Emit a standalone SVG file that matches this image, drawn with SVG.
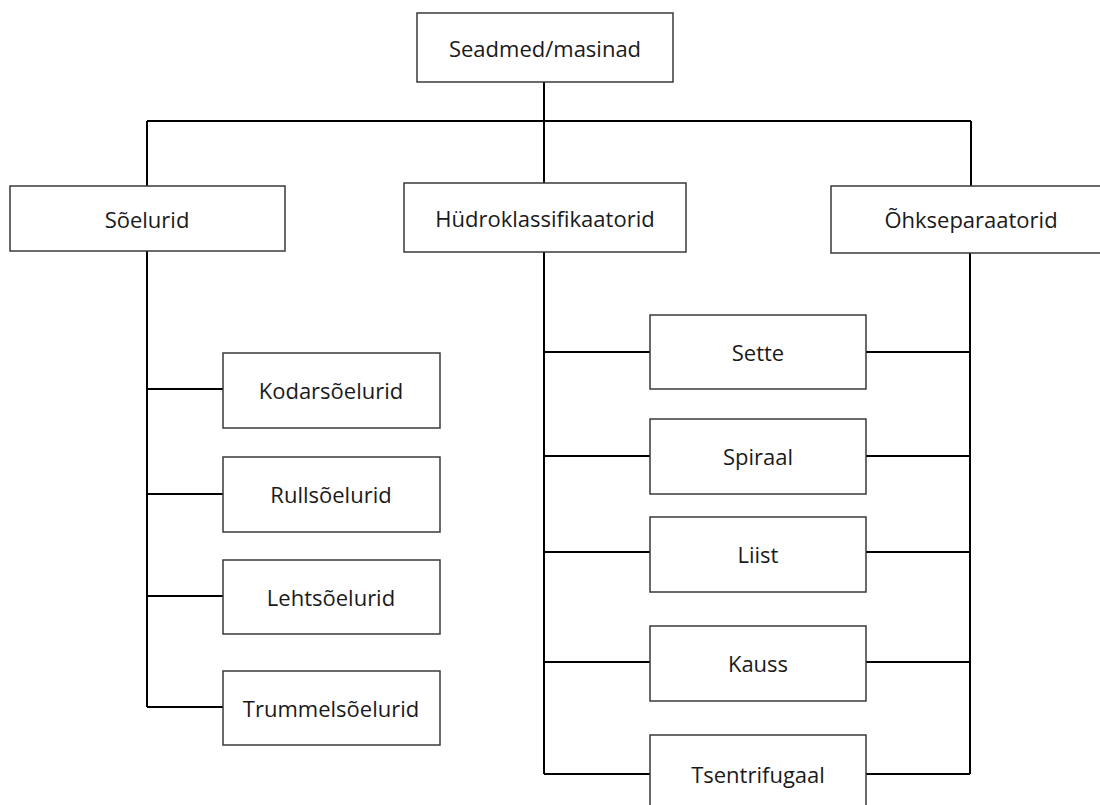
<svg xmlns="http://www.w3.org/2000/svg" width="1100" height="805" viewBox="0 0 1100 805">
<style>
.box{fill:#fff;stroke:#3a3a3a;stroke-width:1.5}
.lbl{font-family:"Open Sans","Liberation Sans",sans-serif;font-size:22px;fill:#1a1a1a;text-anchor:middle;dominant-baseline:central}
.ln{fill:none;stroke:#000;stroke-width:2}
</style>
<rect width="1100" height="805" fill="#fff"/>
<g id="connectors" class="ln">
<path d="M544 82V121M147 121H971M147 121V186M544 121V183M971 121V186"/>
<path d="M147 251V707M147 389H223M147 494H223M147 596H223M147 707H223"/>
<path d="M544 252V774M544 352H650M544 456H650M544 552H650M544 662H650M544 774H650"/>
<path d="M970 253V774M866 352H970M866 456H970M866 552H970M866 662H970M866 774H970"/>
</g>
<g id="n-root"><rect class="box" x="417" y="13" width="256" height="69"/><text class="lbl" x="545" y="48">Seadmed/masinad</text></g>
<g id="n-soelurid"><rect class="box" x="10" y="186" width="275" height="65"/><text class="lbl" x="147" y="219">Sõelurid</text></g>
<g id="n-hudro"><rect class="box" x="404" y="183" width="282" height="69"/><text class="lbl" x="545" y="218">Hüdroklassifikaatorid</text></g>
<g id="n-ohk"><rect class="box" x="831" y="186" width="275" height="67"/><text class="lbl" x="971" y="219">Õhkseparaatorid</text></g>
<g id="n-kodar"><rect class="box" x="223" y="353" width="217" height="75"/><text class="lbl" x="331" y="390">Kodarsõelurid</text></g>
<g id="n-rull"><rect class="box" x="223" y="457" width="217" height="75"/><text class="lbl" x="331" y="494">Rullsõelurid</text></g>
<g id="n-leht"><rect class="box" x="223" y="560" width="217" height="74"/><text class="lbl" x="331" y="597">Lehtsõelurid</text></g>
<g id="n-trummel"><rect class="box" x="223" y="671" width="217" height="74"/><text class="lbl" x="331" y="708">Trummelsõelurid</text></g>
<g id="n-sette"><rect class="box" x="650" y="315" width="216" height="74"/><text class="lbl" x="758" y="352">Sette</text></g>
<g id="n-spiraal"><rect class="box" x="650" y="419" width="216" height="75"/><text class="lbl" x="758" y="456">Spiraal</text></g>
<g id="n-liist"><rect class="box" x="650" y="517" width="216" height="75"/><text class="lbl" x="758" y="554">Liist</text></g>
<g id="n-kauss"><rect class="box" x="650" y="626" width="216" height="75"/><text class="lbl" x="758" y="663">Kauss</text></g>
<g id="n-tsentri"><rect class="box" x="650" y="735" width="216" height="80"/><text class="lbl" x="758" y="774">Tsentrifugaal</text></g>
</svg>
